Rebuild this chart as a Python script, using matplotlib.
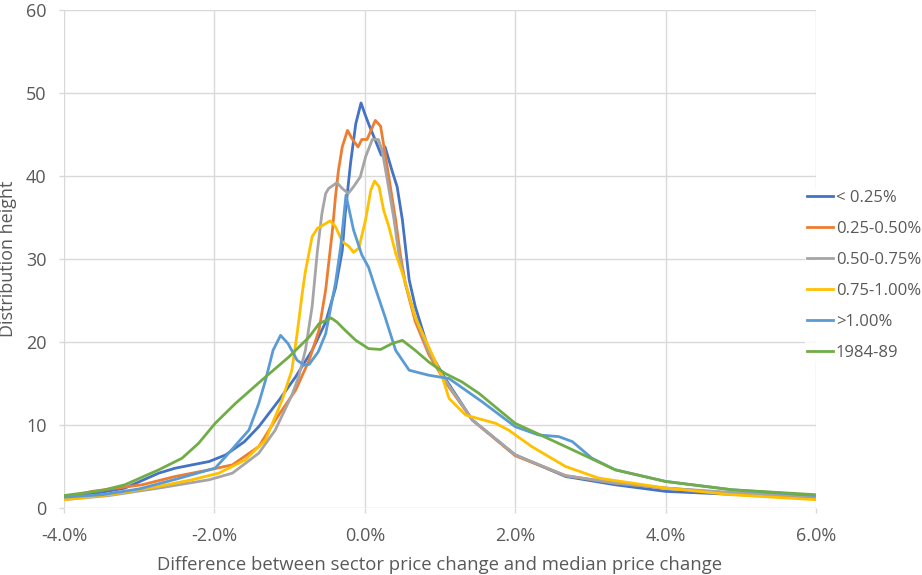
import matplotlib
matplotlib.use("Agg")
import matplotlib.pyplot as plt
from matplotlib.ticker import MultipleLocator, FuncFormatter

# ---- data (x in %, y = distribution height) ----
x_lt025 = [-4.0, -3.5, -3.19, -2.74, -2.52, -2.07, -1.85, -1.6, -1.41, -1.14, -0.92, -0.70, -0.52,
           -0.39, -0.30, -0.26, -0.19, -0.12, -0.05, 0.0, 0.05, 0.14, 0.22, 0.27, 0.36, 0.43, 0.50,
           0.59, 0.67, 0.85, 1.07, 1.43, 2.0, 2.67, 3.33, 4.0, 5.0, 6.0]
y_lt025 = [1.4, 1.9, 2.4, 4.2, 4.8, 5.6, 6.4, 8.0, 9.8, 13.0, 15.8, 19.0, 22.4,
           26.5, 31.0, 35.5, 41.5, 46.3, 48.8, 47.5, 46.3, 44.3, 42.5, 43.5, 40.7, 38.7, 34.7,
           27.5, 24.3, 19.0, 15.6, 10.6, 6.4, 3.8, 2.8, 2.0, 1.6, 1.3]

x_025_050 = [-4.0, -3.63, -2.96, -2.52, -2.07, -1.76, -1.41, -1.19, -0.92, -0.74, -0.61, -0.52,
             -0.48, -0.43, -0.39, -0.35, -0.30, -0.23, -0.17, -0.09, -0.04, 0.03, 0.14, 0.21,
             0.27, 0.34, 0.41, 0.47, 0.54, 0.67, 0.85, 1.07, 1.43, 2.0, 2.67, 3.33, 4.0, 5.0, 6.0]
y_025_050 = [1.2, 2.0, 2.8, 3.8, 4.6, 5.2, 7.4, 10.6, 14.2, 17.8, 21.4, 26.3,
             29.5, 33.5, 37.5, 40.7, 43.5, 45.5, 44.5, 43.5, 44.4, 44.4, 46.7, 46.0,
             42.7, 38.7, 34.7, 30.7, 27.0, 22.5, 18.5, 15.2, 10.6, 6.3, 3.9, 3.0, 2.4, 1.7, 1.2]

x_050_075 = [-4.0, -3.4, -2.74, -2.07, -1.76, -1.41, -1.19, -0.97, -0.88, -0.79, -0.70, -0.63,
             -0.57, -0.52, -0.48, -0.37, -0.30, -0.22, -0.15, -0.06, 0.01, 0.10, 0.18, 0.23,
             0.30, 0.39, 0.45, 0.54, 0.67, 0.85, 1.07, 1.43, 2.0, 2.67, 3.33, 4.0, 5.0, 6.0]
y_050_075 = [1.0, 1.5, 2.4, 3.4, 4.2, 6.6, 9.4, 13.6, 15.8, 19.0, 24.3, 31.0,
             35.5, 37.9, 38.5, 39.2, 38.5, 37.9, 38.7, 39.9, 42.3, 44.4, 44.4, 43.1,
             39.5, 34.7, 30.7, 27.0, 23.0, 18.8, 15.4, 10.6, 6.4, 3.9, 3.0, 2.4, 1.8, 1.4]

x_075_100 = [-4.0, -3.4, -2.74, -2.30, -1.94, -1.59, -1.32, -1.10, -0.97, -0.90, -0.83, -0.79,
             -0.70, -0.63, -0.57, -0.46, -0.39, -0.30, -0.21, -0.15, -0.08, 0.01, 0.08, 0.13,
             0.19, 0.25, 0.32, 0.41, 0.50, 0.54, 0.67, 0.85, 1.03, 1.12, 1.34, 1.74, 1.91,
             2.22, 2.67, 3.11, 4.0, 4.88, 6.0]
y_075_100 = [1.0, 1.6, 2.6, 3.4, 4.2, 5.8, 8.2, 13.0, 16.6, 21.0, 26.0, 28.5,
             32.7, 33.7, 34.0, 34.6, 33.9, 32.1, 31.5, 30.8, 31.3, 34.7, 38.3, 39.4,
             38.7, 35.9, 33.9, 30.7, 28.3, 27.1, 23.0, 19.4, 15.8, 13.2, 11.2, 10.2, 9.4,
             7.4, 5.0, 3.6, 2.4, 1.6, 1.0]

x_gt100 = [-4.0, -3.5, -3.0, -2.5, -1.99, -1.85, -1.54, -1.41, -1.32, -1.22, -1.12, -1.02, -0.90,
           -0.80, -0.74, -0.62, -0.52, -0.39, -0.32, -0.25, -0.15, -0.04, 0.05, 0.14, 0.27,
           0.41, 0.59, 0.85, 1.12, 1.56, 2.0, 2.31, 2.58, 2.76, 3.02, 3.33, 4.0, 4.88, 6.0]
y_gt100 = [1.3, 1.6, 2.3, 3.5, 4.8, 6.2, 9.4, 12.6, 15.4, 19.0, 20.8, 19.8, 17.8,
           17.2, 17.3, 18.8, 21.0, 27.1, 31.5, 37.7, 33.5, 30.5, 29.0, 26.5, 23.0,
           19.0, 16.6, 16.0, 15.6, 12.8, 9.8, 8.8, 8.6, 8.0, 6.0, 4.6, 3.2, 2.2, 1.5]

x_1984_89 = [-4.0, -3.5, -3.19, -2.74, -2.43, -2.21, -1.99, -1.72, -1.37, -1.01, -0.74, -0.61,
             -0.45, -0.37, -0.26, -0.12, 0.05, 0.21, 0.36, 0.50, 0.67, 0.85, 1.07, 1.29, 1.52,
             2.0, 2.67, 3.33, 4.0, 4.88, 6.0]
y_1984_89 = [1.5, 2.1, 2.8, 4.6, 6.0, 7.8, 10.2, 12.6, 15.4, 18.2, 20.6, 22.2,
             22.9, 22.4, 21.4, 20.2, 19.2, 19.1, 19.8, 20.2, 19.0, 17.6, 16.2, 15.2, 13.8,
             10.2, 7.4, 4.6, 3.2, 2.2, 1.6]

series_names = ["< 0.25%", "0.25-0.50%", "0.50-0.75%", "0.75-1.00%", ">1.00%", "1984-89"]
series_x = [x_lt025, x_025_050, x_050_075, x_075_100, x_gt100, x_1984_89]
series_y = [y_lt025, y_025_050, y_050_075, y_075_100, y_gt100, y_1984_89]
colors = ["#4472C4", "#ED7D31", "#A5A5A5", "#FFC000", "#5B9BD5", "#70AD47"]

plt.rcParams['font.family'] = ['Open Sans', 'DejaVu Sans']
fig = plt.figure(figsize=(9.22, 5.75), dpi=100)
W, H = 922, 575
ax = fig.add_axes([64 / W, (H - 508) / H, (816 - 64) / W, (508 - 10) / H])

for xs, ys, name, c in zip(series_x, series_y, series_names, colors):
    ax.plot(xs, ys, color=c, lw=2.0, label=name, solid_joinstyle='round')

ax.set_xlim(-4, 6)
ax.set_ylim(0, 60)
ax.xaxis.set_major_locator(MultipleLocator(2))
ax.yaxis.set_major_locator(MultipleLocator(10))
ax.xaxis.set_major_formatter(FuncFormatter(lambda v, p: f"{v:.1f}%"))
ax.grid(True, color="#D9D9D9", lw=1.0)
ax.set_axisbelow(True)
for s in ax.spines.values():
    s.set_visible(False)
ax.tick_params(length=3.6, width=1.0, color="#D9D9D9", labelsize=13, labelcolor="#595959")
ax.tick_params(axis='x', pad=10)
ax.tick_params(axis='y', pad=9)

ax.set_xlabel("Difference between sector price change and median price change",
              fontsize=13.3, color="#595959", labelpad=8)
ax.set_ylabel("Distribution height", fontsize=13, color="#595959")
ax.yaxis.set_label_coords((17 - 64) / (816 - 64), 0.5)

leg = fig.legend(loc="upper left", bbox_to_anchor=(805 / W, 1 - 188 / H), frameon=True,
                 fontsize=12, labelcolor="#595959", handlelength=1.6, handletextpad=0.15,
                 labelspacing=0.9, borderpad=0.1, borderaxespad=0)
leg.get_frame().set_edgecolor("white")
leg.get_frame().set_facecolor("white")
leg.get_frame().set_linewidth(0)

fig.savefig("out.png", dpi=100)
